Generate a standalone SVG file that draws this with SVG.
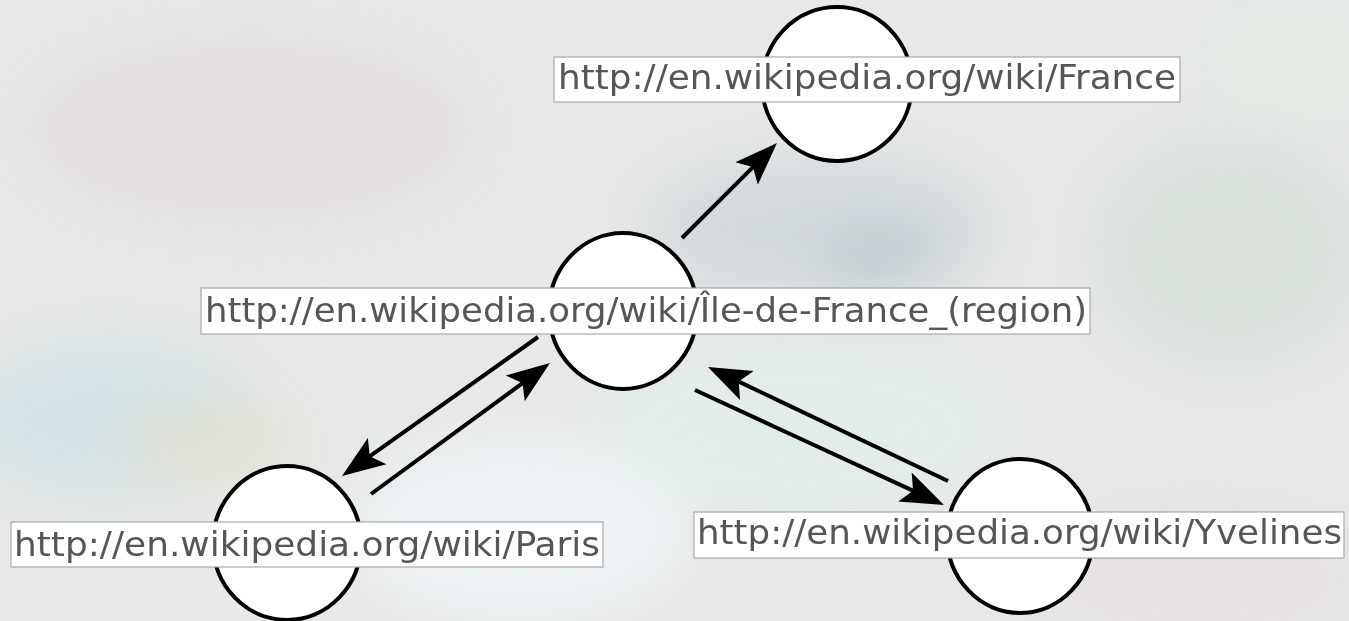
<svg xmlns="http://www.w3.org/2000/svg" width="1349" height="621" viewBox="0 0 1349 621">
  <defs>
    <style>
      .node { fill: #ffffff; stroke: #000000; stroke-width: 4; }
      .lbox { fill: #ffffff; stroke: #a8aaa8; stroke-width: 1.2; }
      .ltxt { font-family: "DejaVu Sans Condensed", "DejaVu Sans", "Liberation Sans", sans-serif; font-stretch: semi-condensed; font-size: 33px; fill: #565656; }
      .edge { stroke: #000000; stroke-width: 4; fill: none; marker-end: url(#arrow); }
    </style>
    <marker id="arrow" markerUnits="userSpaceOnUse" viewBox="0 -17 44 34" markerWidth="44" markerHeight="34" refX="20" refY="0" orient="auto">
      <path d="M0,-16 L43,0 L0,16 L9,0 Z" fill="#000000"/>
    </marker>
    <filter id="blur" x="-20%" y="-20%" width="140%" height="140%">
      <feGaussianBlur stdDeviation="28"/>
    </filter>
  </defs>

  <g id="background">
    <rect x="0" y="0" width="1349" height="621" fill="#e6e9e6"/>
    <g filter="url(#blur)">
      <ellipse cx="250" cy="130" rx="220" ry="90" fill="#e2dcdc" opacity="0.8"/>
      <ellipse cx="820" cy="230" rx="170" ry="70" fill="#cdd4da" opacity="0.8"/>
      <ellipse cx="880" cy="260" rx="60" ry="35" fill="#b3bdc6" opacity="0.5"/>
      <ellipse cx="1230" cy="250" rx="130" ry="110" fill="#d5ddd6" opacity="0.8"/>
      <ellipse cx="110" cy="420" rx="140" ry="70" fill="#d0e0e6" opacity="0.9"/>
      <ellipse cx="200" cy="440" rx="90" ry="30" fill="#e0dcc8" opacity="0.8"/>
      <ellipse cx="520" cy="530" rx="170" ry="90" fill="#eef3f6" opacity="0.9"/>
      <ellipse cx="800" cy="430" rx="200" ry="80" fill="#e2ede9" opacity="0.8"/>
      <ellipse cx="1200" cy="580" rx="160" ry="60" fill="#e6e0e0" opacity="0.8"/>
      <ellipse cx="1300" cy="60" rx="90" ry="60" fill="#e3ebe4" opacity="0.8"/>
    </g>
  </g>

  <g id="connectors">
    <line class="edge" x1="682" y1="238" x2="760.7" y2="159.3"/>
    <line class="edge" x1="538" y1="337" x2="360.8" y2="462.7"/>
    <line class="edge" x1="371" y1="494" x2="531.4" y2="376.6"/>
    <line class="edge" x1="695" y1="390" x2="923.1" y2="495.4"/>
    <line class="edge" x1="948" y1="481" x2="728.8" y2="376.9"/>
  </g>

  <g id="node-france">
    <ellipse class="node" cx="837" cy="84" rx="75" ry="77"/>
    <rect class="lbox" x="554" y="57" width="626" height="45"/>
    <text class="ltxt" x="558" y="89" textLength="618" lengthAdjust="spacingAndGlyphs">http://en.wikipedia.org/wiki/France</text>
  </g>

  <g id="node-iledefrance">
    <ellipse class="node" cx="623" cy="311" rx="74" ry="78"/>
    <rect class="lbox" x="201" y="288" width="889" height="46"/>
    <text class="ltxt" x="205" y="322" textLength="882" lengthAdjust="spacingAndGlyphs">http://en.wikipedia.org/wiki/Île-de-France_(region)</text>
  </g>

  <g id="node-paris">
    <ellipse class="node" cx="287" cy="543" rx="74" ry="77"/>
    <rect class="lbox" x="11" y="522" width="592" height="45"/>
    <text class="ltxt" x="14" y="556" textLength="586" lengthAdjust="spacingAndGlyphs">http://en.wikipedia.org/wiki/Paris</text>
  </g>

  <g id="node-yvelines">
    <ellipse class="node" cx="1020" cy="536" rx="73" ry="77"/>
    <rect class="lbox" x="694" y="512" width="650" height="46"/>
    <text class="ltxt" x="697" y="544" textLength="645" lengthAdjust="spacingAndGlyphs">http://en.wikipedia.org/wiki/Yvelines</text>
  </g>
</svg>
